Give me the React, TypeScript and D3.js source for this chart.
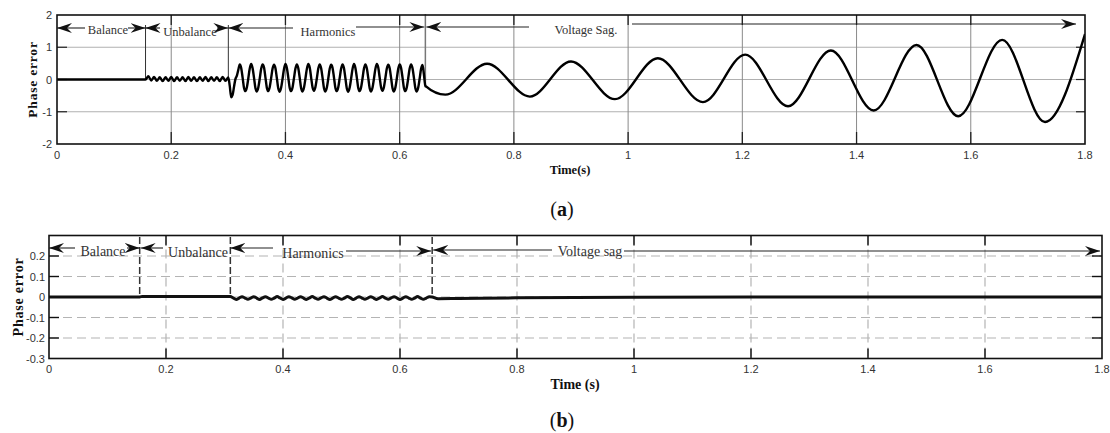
import React from "react";
import * as d3 from "d3";

// ---------- axes ----------
const xTicks = [0, 0.2, 0.4, 0.6, 0.8, 1, 1.2, 1.4, 1.6, 1.8];
const xTickLabels = ["0", "0.2", "0.4", "0.6", "0.8", "1", "1.2", "1.4", "1.6", "1.8"];
const yTicksA = [2, 1, 0, -1, -2];
const yTickLabelsA = ["2", "1", "0", "-1", "-2"];
const yTicksB = [0.2, 0.1, 0, -0.1, -0.2, -0.3];
const yTickLabelsB = ["0.2", "0.1", "0", "-0.1", "-0.2", "-0.3"];

// ---------- panel (a) data ----------
const aBalance: [number, number][] = [[0, 0], [0.155, 0]];
const aUnbT0 = 0.155;
const aUnbDt = 0.005;
const aUnbalance = [0, 0.1, -0.03, 0.08, -0.04, 0.07, -0.05, 0.07, -0.04, 0.08,
  -0.05, 0.07, -0.04, 0.07, -0.05, 0.08, -0.04, 0.07, -0.05, 0.07,
  -0.04, 0.08, -0.05, 0.07, -0.04, 0.07, -0.05, 0.08, -0.04, 0.06];
const aHarmT0 = 0.3;
const aHarmDt = 0.0025;
const aHarmonics = [
  0.12, -0.2, -0.55, -0.48, -0.22, 0.02, 0.12, 0.3,
  0.47, 0.36, 0.06, -0.26, -0.36, -0.24, 0.04, 0.34,
  0.48, 0.35, 0.05, -0.27, -0.37, -0.25, 0.03, 0.33,
  0.47, 0.37, 0.06, -0.26, -0.36, -0.23, 0.05, 0.34,
  0.46, 0.35, 0.04, -0.28, -0.38, -0.25, 0.03, 0.33,
  0.48, 0.36, 0.06, -0.26, -0.36, -0.24, 0.05, 0.34,
  0.47, 0.35, 0.05, -0.27, -0.37, -0.25, 0.03, 0.33,
  0.48, 0.37, 0.06, -0.25, -0.35, -0.23, 0.04, 0.34,
  0.47, 0.35, 0.05, -0.27, -0.37, -0.25, 0.03, 0.33,
  0.46, 0.36, 0.06, -0.26, -0.36, -0.24, 0.05, 0.34,
  0.47, 0.35, 0.04, -0.28, -0.38, -0.25, 0.03, 0.33,
  0.48, 0.36, 0.06, -0.26, -0.36, -0.24, 0.04, 0.34,
  0.47, 0.35, 0.05, -0.27, -0.37, -0.25, 0.03, 0.33,
  0.48, 0.37, 0.06, -0.25, -0.35, -0.23, 0.05, 0.34,
  0.46, 0.35, 0.05, -0.27, -0.37, -0.25, 0.03, 0.33,
  0.47, 0.36, 0.06, -0.26, -0.36, -0.24, 0.04, 0.34,
  0.47, 0.35, 0.05, -0.27, -0.37, -0.25, 0.03, 0.33,
  0.45, 0.15, -0.2
];
const aSagT = [0.645, 0.68, 0.753, 0.828, 0.9, 0.977, 1.052, 1.131, 1.205, 1.28, 1.355, 1.43, 1.505, 1.578, 1.655, 1.73, 1.8];
const aSagV = [-0.2, -0.47, 0.49, -0.53, 0.56, -0.61, 0.66, -0.7, 0.77, -0.83, 0.9, -0.96, 1.07, -1.14, 1.23, -1.32, 1.41];

// ---------- panel (b) data ----------
const bBalance: [number, number][] = [[0, 0], [0.155, 0]];
const bUnbalance: [number, number][] = [[0.16, 0.003], [0.23, 0.003], [0.305, 0.003]];
const bHarmT0 = 0.31;
const bHarmDt = 0.005;
const bHarmonics = [
  0.003,
  -0.005, -0.012, -0.005, 0.001, -0.005, -0.011, -0.005, 0.001,
  -0.005, -0.012, -0.004, 0.001, -0.005, -0.011, -0.005, 0.002,
  -0.005, -0.012, -0.005, 0.001, -0.004, -0.011, -0.005, 0.001,
  -0.005, -0.012, -0.005, 0.002, -0.005, -0.011, -0.004, 0.001,
  -0.005, -0.012, -0.005, 0.001, -0.005, -0.011, -0.005, 0.002,
  -0.004, -0.012, -0.005, 0.001, -0.005, -0.011, -0.005, 0.001,
  -0.005, -0.012, -0.005, 0.002, -0.005, -0.011, -0.004, 0.001,
  -0.005, -0.012, -0.005, 0.001, -0.005, -0.011, -0.005, 0.002,
  -0.005, -0.011, -0.005, 0.001,
  0.0
];
const bSag: [number, number][] = [[0.665, -0.008], [0.7, -0.007], [0.8, -0.004], [1.0, -0.001], [1.2, 0.0], [1.8, 0.0]];

function sampled(t0: number, dt: number, vals: number[]): [number, number][] {
  return vals.map((v, i) => [t0 + i * dt, v]);
}
function join(...segs: [number, number][][]): [number, number][] {
  const out: [number, number][] = [];
  segs.forEach((s) => s.forEach((p) => {
    if (out.length && p[0] <= out[out.length - 1][0] + 1e-9) return;
    out.push(p);
  }));
  return out;
}

const W = 1110, H = 433;

export default function App() {
  const xA = d3.scaleLinear().domain([0, 1.8]).range([57, 1085]);
  const yA = d3.scaleLinear().domain([-2, 2]).range([144, 15]);
  const xB = d3.scaleLinear().domain([0, 1.8]).range([49, 1102]);
  const yB = d3.scaleLinear().domain([-0.3, 0.3]).range([358.5, 235.5]);

  const seriesA = join(aBalance, sampled(aUnbT0, aUnbDt, aUnbalance), sampled(aHarmT0, aHarmDt, aHarmonics),
    aSagT.map((t, i) => [t, aSagV[i]] as [number, number]));
  const seriesB = join(bBalance, bUnbalance, sampled(bHarmT0, bHarmDt, bHarmonics), bSag);

  const lineA = d3.line<[number, number]>().x((d) => xA(d[0])).y((d) => yA(d[1])).curve(d3.curveMonotoneX);
  const lineB = d3.line<[number, number]>().x((d) => xB(d[0])).y((d) => yB(d[1])).curve(d3.curveMonotoneX);

  const sans = "'Liberation Sans', Arial, sans-serif";
  const serif = "'Liberation Serif', 'Times New Roman', serif";

  const arrow = (x1: number, x2: number, y: number, start: boolean, key: string) => (
    <line key={key} x1={x1} x2={x2} y1={y} y2={y} stroke="#222" strokeWidth={1.1}
      markerStart={start ? "url(#arr)" : undefined} markerEnd={start ? undefined : "url(#arr)"} />
  );

  return (
    <svg width={W} height={H} style={{ position: "absolute", left: 0, top: 0, background: "#fff" }}
      xmlns="http://www.w3.org/2000/svg">
      <defs>
        <marker id="arr" viewBox="0 -5.5 15 11" refX={15} refY={0} markerWidth={15} markerHeight={11}
          markerUnits="userSpaceOnUse" orient="auto-start-reverse">
          <path d="M0,-5 L15,0 L0,5 L5,0 Z" fill="#111" />
        </marker>
        <clipPath id="clipA"><rect x={57} y={15} width={1028} height={129} /></clipPath>
        <clipPath id="clipB"><rect x={49} y={235.5} width={1053} height={123} /></clipPath>
      </defs>

      {/* ================= Panel (a) ================= */}
      <g>
        {yTicksA.slice(1, -1).map((v) => (
          <line key={"ga" + v} x1={xA(0)} x2={xA(1.8)} y1={yA(v)} y2={yA(v)} stroke="#b0b0b0" strokeWidth={1.2} />
        ))}
        {xTicks.slice(1, -1).map((v) => (
          <line key={"gva" + v} x1={xA(v)} x2={xA(v)} y1={yA(2)} y2={yA(-2)} stroke="#8a8a8a" strokeWidth={1} />
        ))}
        {xTicks.slice(1, -1).map((v) => (
          <g key={"ta" + v}>
            <line x1={xA(v)} x2={xA(v)} y1={yA(2)} y2={yA(2) + 10} stroke="#222" strokeWidth={1.3} />
            <line x1={xA(v)} x2={xA(v)} y1={yA(-2)} y2={yA(-2) - 12} stroke="#222" strokeWidth={1.3} />
          </g>
        ))}
        {yTicksA.slice(1, -1).map((v) => (
          <g key={"tya" + v}>
            <line x1={xA(0)} x2={xA(0) + 10} y1={yA(v)} y2={yA(v)} stroke="#222" strokeWidth={1.2} />
            <line x1={xA(1.8)} x2={xA(1.8) - 9} y1={yA(v)} y2={yA(v)} stroke="#222" strokeWidth={1.2} />
          </g>
        ))}
        <line x1={xA(0.155)} x2={xA(0.155)} y1={25} y2={yA(0)} stroke="#333" strokeWidth={1} />
        <line x1={xA(0.3)} x2={xA(0.3)} y1={25} y2={yA(0)} stroke="#333" strokeWidth={1} />
        <line x1={xA(0.645)} x2={xA(0.645)} y1={14} y2={yA(-0.25)} stroke="#777" strokeWidth={1.5} />

        <path d={lineA(seriesA) || ""} fill="none" stroke="#000" strokeWidth={2.4} strokeLinejoin="round" clipPath="url(#clipA)" />

        <rect x={xA(0)} y={yA(2)} width={xA(1.8) - xA(0)} height={yA(-2) - yA(2)} fill="none" stroke="#111" strokeWidth={1.6} />

        {arrow(xA(0), 85, 28, true, "a1")}
        {arrow(128, xA(0.155), 28, false, "a2")}
        {arrow(xA(0.155), 160, 28, true, "a3")}
        {arrow(217, xA(0.3), 28, false, "a4")}
        {arrow(xA(0.3), 293, 28, true, "a5")}
        {arrow(356, xA(0.645) - 1, 27, false, "a6")}
        {arrow(xA(0.645) + 1, 529, 27, true, "a7")}
        {arrow(632, 1076, 24, false, "a8")}
        <g fontFamily={serif} fontSize={12.5} fill="#333" textAnchor="middle">
          <text x={108} y={34}>Balance</text>
          <text x={190} y={36}>Unbalance</text>
          <text x={328} y={36}>Harmonics</text>
          <text x={586} y={34}>Voltage Sag.</text>
        </g>

        <g fontFamily={sans} fontSize={11} fill="#333">
          {xTicks.map((v, i) => (
            <text key={"xla" + v} x={xA(v)} y={159} textAnchor="middle">{xTickLabels[i]}</text>
          ))}
          {yTicksA.map((v, i) => (
            <text key={"yla" + v} x={52} y={yA(v) + 4} textAnchor="end">{yTickLabelsA[i]}</text>
          ))}
        </g>
        <text x={570} y={174} textAnchor="middle" fontFamily={serif} fontWeight="bold" fontSize={12.5} fill="#111">Time(s)</text>
        <text transform={`translate(37,${yA(0)}) rotate(-90)`} textAnchor="middle" fontFamily={serif}
          fontWeight="bold" fontSize={13.5} fill="#111" letterSpacing={0.8}>Phase error</text>
        <text x={562} y={216} textAnchor="middle" fontFamily={serif} fontSize={20} fill="#111">
          (<tspan fontWeight="bold">a</tspan>)
        </text>
      </g>

      {/* ================= Panel (b) ================= */}
      <g>
        {yTicksB.slice(0, -1).map((v) => (
          <line key={"gb" + v} x1={xB(0)} x2={xB(1.8)} y1={yB(v)} y2={yB(v)} stroke="#b4b4b4" strokeWidth={1.2}
            strokeDasharray="9,5" />
        ))}
        {xTicks.slice(1, -1).map((v) => (
          <line key={"gvb" + v} x1={xB(v)} x2={xB(v)} y1={yB(0.3)} y2={yB(-0.3)} stroke="#b4b4b4" strokeWidth={1.2}
            strokeDasharray="9,5" />
        ))}
        {xTicks.slice(1, -1).map((v) => (
          <g key={"tb" + v}>
            <line x1={xB(v)} x2={xB(v)} y1={yB(0.3)} y2={yB(0.3) + 10} stroke="#111" strokeWidth={1.4} />
            <line x1={xB(v)} x2={xB(v)} y1={yB(-0.3)} y2={yB(-0.3) - 10} stroke="#111" strokeWidth={1.4} />
          </g>
        ))}
        {yTicksB.slice(0, -1).map((v) => (
          <g key={"tyb" + v}>
            <line x1={xB(0)} x2={xB(0) + 10} y1={yB(v)} y2={yB(v)} stroke="#111" strokeWidth={1.4} />
            <line x1={xB(1.8)} x2={xB(1.8) - 10} y1={yB(v)} y2={yB(v)} stroke="#111" strokeWidth={1.4} />
          </g>
        ))}
        {[0.155, 0.31, 0.655].map((v) => (
          <line key={"vb" + v} x1={xB(v)} x2={xB(v)} y1={237} y2={yB(0)} stroke="#333" strokeWidth={1.5}
            strokeDasharray="7,3" />
        ))}

        <path d={lineB(seriesB) || ""} fill="none" stroke="#111" strokeWidth={3} clipPath="url(#clipB)" />

        <rect x={xB(0)} y={yB(0.3)} width={xB(1.8) - xB(0)} height={yB(-0.3) - yB(0.3)} fill="none" stroke="#111" strokeWidth={1.6} />

        {arrow(xB(0), 75, 248, true, "b1")}
        {arrow(127, xB(0.155), 248, false, "b2")}
        {arrow(xB(0.155) + 1, 163, 248, true, "b3")}
        {arrow(xB(0.31), 273, 248, true, "b5")}
        {arrow(346, xB(0.655) - 1, 251, false, "b6")}
        {arrow(xB(0.655) + 1, 552, 250, true, "b7")}
        {arrow(624, xB(1.8) - 2, 251, false, "b8")}
        <g fontFamily={serif} fontSize={14} fill="#333" textAnchor="middle">
          <text x={103} y={255.5}>Balance</text>
          <text x={198} y={257}>Unbalance</text>
          <text x={313} y={258}>Harmonics</text>
          <text x={590} y={255.5}>Voltage sag</text>
        </g>

        <g fontFamily={sans} fontSize={11} fill="#333">
          {xTicks.map((v, i) => (
            <text key={"xlb" + v} x={xB(v)} y={373} textAnchor="middle">{xTickLabels[i]}</text>
          ))}
          {yTicksB.map((v, i) => (
            <text key={"ylb" + v} x={45} y={yB(v) + 4} textAnchor="end">{yTickLabelsB[i]}</text>
          ))}
        </g>
        <text x={575} y={389} textAnchor="middle" fontFamily={serif} fontWeight="bold" fontSize={14} fill="#111">Time (s)</text>
        <text transform={`translate(23,${yB(0)}) rotate(-90)`} textAnchor="middle" fontFamily={serif}
          fontWeight="bold" fontSize={14} fill="#111" letterSpacing={0.8}>Phase error</text>
        <text x={562} y={427} textAnchor="middle" fontFamily={serif} fontSize={20} fill="#111">
          (<tspan fontWeight="bold">b</tspan>)
        </text>
      </g>
    </svg>
  );
}
